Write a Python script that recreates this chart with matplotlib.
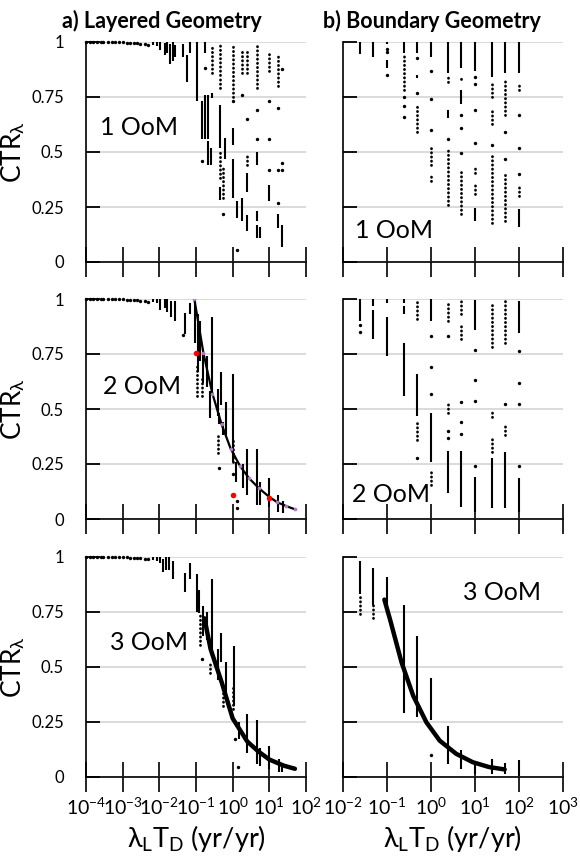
import matplotlib
matplotlib.use('Agg')
import matplotlib.pyplot as plt

plt.rcParams['font.family'] = ['Lato', 'DejaVu Sans']
plt.rcParams['mathtext.fontset'] = 'custom'
plt.rcParams['mathtext.rm'] = 'Lato'
plt.rcParams['mathtext.it'] = 'Lato:italic'
plt.rcParams['mathtext.bf'] = 'Lato:bold'
plt.rcParams['mathtext.fallback'] = 'stixsans'

# ---------------- data ----------------
titles = ['a) Layered Geometry', 'b) Boundary Geometry']
oom_labels = ['1 OoM', '2 OoM', '3 OoM', '1 OoM', '2 OoM', '3 OoM']
y_ticks = [0, 0.25, 0.5, 0.75, 1]
y_ticklabels = ['0', '0.25', '0.5', '0.75', '1']
left_xticks = [1e-4, 1e-3, 1e-2, 1e-1, 1e0, 1e1, 1e2]
left_xticklabels = ['$10^{-4}$', '$10^{-3}$', '$10^{-2}$', '$10^{-1}$',
                    '$10^{0}$', '$10^{1}$', '$10^{2}$']
right_xticks = [1e-2, 1e-1, 1e0, 1e1, 1e2, 1e3]
right_xticklabels = ['$10^{-2}$', '$10^{-1}$', '$10^{0}$', '$10^{1}$',
                     '$10^{2}$', '$10^{3}$']

# near-unity points shared by layered panels
flat_x = [1e-4, 1.3e-4, 1.6e-4, 2e-4, 2.5e-4, 3e-4, 4e-4, 5e-4, 6e-4, 8e-4,
          1e-3, 1.3e-3, 1.6e-3, 2e-3, 2.5e-3, 3e-3, 4e-3, 5e-3]
flat_y = [1, 1, 1, 1, 1, 1, 0.999, 0.999, 0.999, 0.998,
          0.998, 0.997, 0.996, 0.995, 0.994, 0.993, 0.99, 0.988]

# (x, y_low, y_high) dense columns, sparse dotted columns, single points
a1_dense = [(0.0066, 0.985, 1.0), (0.0085, 0.98, 0.998), (0.0105, 0.965, 1.0),
            (0.014, 0.94, 0.995), (0.0165, 0.95, 1.0), (0.02, 0.90, 0.99),
            (0.024, 0.915, 1.0), (0.027, 0.93, 0.985), (0.045, 0.93, 0.99),
            (0.058, 0.82, 0.94), (0.069, 0.95, 1.0), (0.105, 0.73, 1.0),
            (0.142, 0.56, 0.73), (0.176, 0.56, 0.76), (0.176, 0.95, 1.0),
            (0.217, 0.56, 0.76), (0.217, 0.44, 0.55), (0.279, 0.745, 0.77),
            (0.26, 0.44, 0.52), (0.45, 0.52, 0.715), (0.45, 0.28, 0.34),
            (0.62, 0.47, 0.565), (1.04, 0.53, 0.61), (1.04, 0.29, 0.47),
            (1.34, 0.20, 0.275), (1.84, 0.185, 0.29), (2.4, 0.32, 0.405),
            (2.4, 0.14, 0.215), (4.5, 0.44, 0.50), (4.5, 0.185, 0.23),
            (4.5, 0.11, 0.17), (5.6, 0.11, 0.16), (10, 0.275, 0.35),
            (17.6, 0.155, 0.22), (22.6, 0.07, 0.17)]
a1_sparse = [(0.279, 0.86, 0.98), (0.45, 0.85, 1.0), (0.45, 0.79, 0.84),
             (0.45, 0.38, 0.50), (0.56, 0.29, 0.44), (1.04, 0.75, 0.99),
             (1.84, 0.86, 0.96), (2.4, 0.86, 0.96), (2.4, 0.44, 0.49),
             (4.5, 0.79, 0.99), (10, 0.87, 0.95), (17.6, 0.80, 0.94)]
a1_pts_x = [0.56, 1.04, 1.34, 1.84, 2.4, 4.5, 4.5, 10, 10, 10, 17.6, 17.6,
            17.6, 22.6, 22.6, 22.6, 0.176, 0.142]
a1_pts_y = [0.22, 0.73, 0.056, 0.76, 0.65, 0.69, 0.56, 0.73, 0.56, 0.42, 0.70,
            0.42, 0.27, 0.875, 0.45, 0.42, 0.88, 0.46]

a2_dense = [(0.0066, 0.985, 1.0), (0.0085, 0.98, 0.998), (0.0105, 0.95, 1.0),
            (0.014, 0.96, 1.0), (0.0165, 0.94, 1.0), (0.021, 0.92, 0.99),
            (0.026, 0.90, 0.99), (0.05, 0.84, 0.935), (0.069, 0.93, 0.98),
            (0.095, 0.80, 1.0), (0.11, 0.67, 0.93), (0.125, 0.72, 0.90),
            (0.16, 0.62, 0.76), (0.2, 0.60, 0.74), (0.267, 0.58, 0.92),
            (0.24, 0.46, 0.58), (0.41, 0.47, 0.59), (0.43, 0.43, 0.48),
            (0.48, 0.52, 0.67), (0.53, 0.38, 0.44), (0.66, 0.38, 0.53),
            (1.04, 0.26, 0.66), (1.23, 0.17, 0.26), (1.86, 0.14, 0.25),
            (2.4, 0.11, 0.32), (4.5, 0.065, 0.32), (5.6, 0.065, 0.17),
            (10, 0.056, 0.185), (17.6, 0.033, 0.11), (22.9, 0.026, 0.08)]
a2_sparse = [(0.109, 0.56, 0.71), (0.143, 0.56, 0.65), (0.41, 0.30, 0.38),
             (1.0, 0.26, 0.36)]
a2_pts_x = [0.045, 0.425, 1.05, 1.3, 1.3]
a2_pts_y = [0.835, 0.23, 0.205, 0.05, 0.08]
a2_fit_x = [0.09, 0.16, 0.28, 0.5, 0.88, 1.6, 2.8, 5.2, 10, 16.5, 28.5, 50]
a2_fit_y = [1.0, 0.753, 0.57, 0.43, 0.32, 0.24, 0.185, 0.14, 0.10, 0.076,
            0.059, 0.044]
a2_red_x = [0.1, 1.0, 10]
a2_red_y = [0.753, 0.109, 0.097]

a3_dense = [(0.0066, 0.985, 1.0), (0.0085, 0.98, 0.998), (0.0105, 0.97, 1.0),
            (0.0125, 0.93, 0.99), (0.0155, 0.94, 1.0), (0.018, 0.94, 1.0),
            (0.024, 0.90, 0.98), (0.05, 0.84, 0.925), (0.069, 0.90, 0.97),
            (0.105, 0.75, 0.92), (0.12, 0.745, 0.85), (0.16, 0.64, 0.775),
            (0.2, 0.62, 0.75), (0.28, 0.564, 0.90), (0.41, 0.44, 0.58),
            (0.48, 0.52, 0.655), (0.66, 0.38, 0.52), (1.08, 0.32, 0.594),
            (1.45, 0.17, 0.25), (2.4, 0.11, 0.285), (4.5, 0.06, 0.26),
            (5.6, 0.05, 0.13), (10, 0.036, 0.14), (18, 0.02, 0.08),
            (22, 0.02, 0.06)]
a3_sparse = [(0.13, 0.60, 0.745), (0.24, 0.47, 0.52), (0.56, 0.32, 0.41),
             (1.04, 0.31, 0.41)]
a3_pts_x = [0.143, 1.15, 1.4]
a3_pts_y = [0.534, 0.17, 0.044]
a3_fit_x = [0.17, 0.25, 0.5, 1.0, 2.5, 5, 10, 25, 50]
a3_fit_y = [0.72, 0.58, 0.43, 0.265, 0.16, 0.115, 0.078, 0.05, 0.036]

b1_dense = [(0.025, 0.945, 1.0), (0.05, 0.93, 1.0), (0.1, 0.99, 1.0),
            (0.1, 0.88, 0.92), (0.25, 0.95, 1.0), (0.5, 0.95, 1.0),
            (0.5, 0.835, 0.85), (1, 0.93, 1.0), (2.5, 0.86, 1.0),
            (2.5, 0.655, 0.69), (5, 0.88, 1.0), (5, 0.72, 0.78),
            (10, 0.87, 1.0), (10, 0.185, 0.245), (25, 0.84, 1.0),
            (50, 0.86, 1.0), (100, 0.86, 1.0), (100, 0.16, 0.24)]
b1_sparse = [(0.25, 0.78, 0.95), (0.5, 0.59, 0.71), (1, 0.44, 0.525),
             (1, 0.37, 0.40), (2.5, 0.26, 0.52), (2.5, 0.82, 0.84),
             (5, 0.83, 0.85), (5, 0.22, 0.42), (10, 0.31, 0.36),
             (10, 0.405, 0.43), (25, 0.75, 0.81), (25, 0.625, 0.69),
             (25, 0.177, 0.48), (50, 0.67, 0.83), (50, 0.185, 0.40),
             (100, 0.78, 0.82), (100, 0.30, 0.34)]
b1_pts_x = [0.1, 0.1, 0.1, 0.25, 0.25, 0.25, 0.5, 0.5, 1, 1, 1, 2.5, 5, 5, 5,
            10, 10, 10, 10, 25, 50, 50, 100, 100, 100]
b1_pts_y = [0.97, 0.955, 0.85, 0.75, 0.71, 0.66, 0.925, 0.77, 0.87, 0.74, 0.6,
            0.56, 0.67, 0.61, 0.495, 0.84, 0.81, 0.69, 0.54, 0.53, 0.59, 0.47,
            0.67, 0.52, 0.40]

b2_dense = [(0.025, 0.90, 1.0), (0.05, 0.97, 1.0), (0.05, 0.82, 0.95),
            (0.1, 0.98, 1.0), (0.1, 0.74, 0.92), (0.25, 0.98, 1.0),
            (0.25, 0.93, 0.97), (0.25, 0.56, 0.80), (0.5, 0.47, 0.66),
            (1, 0.9, 1.0), (1, 0.26, 0.48), (2.5, 0.12, 0.31),
            (5, 0.056, 0.31), (10, 0.86, 0.995), (10, 0.033, 0.19),
            (25, 0.05, 0.276), (50, 0.05, 0.305), (100, 0.845, 0.99),
            (100, 0.033, 0.185)]
b2_sparse = [(0.5, 0.91, 1.0), (0.5, 0.36, 0.45), (1, 0.155, 0.22),
             (2.5, 0.9, 0.99), (2.5, 0.48, 0.525), (5, 0.93, 0.99),
             (5, 0.82, 0.89), (25, 0.78, 0.98), (25, 0.305, 0.375),
             (25, 0.465, 0.49), (50, 0.80, 0.99), (50, 0.38, 0.43)]
b2_pts_x = [0.025, 0.025, 0.5, 1, 1, 1, 2.5, 2.5, 2.5, 5, 5, 5, 10, 10, 10, 10,
            50, 100, 100, 100, 100]
b2_pts_y = [0.88, 0.85, 0.276, 0.83, 0.69, 0.57, 0.83, 0.40, 0.37, 0.53, 0.44,
            0.385, 0.77, 0.63, 0.535, 0.24, 0.525, 0.765, 0.62, 0.525, 0.24]

b3_dense = [(0.025, 0.83, 0.98), (0.05, 0.78, 0.95), (0.1, 0.74, 0.91),
            (0.25, 0.29, 0.78), (0.5, 0.27, 0.64), (1, 0.26, 0.45),
            (2.5, 0.06, 0.23), (5, 0.036, 0.12), (10, 0.014, 0.066),
            (25, 0.014, 0.08), (50, 0.014, 0.063), (100, 0.003, 0.074)]
b3_sparse = [(0.025, 0.74, 0.83), (0.05, 0.72, 0.78)]
b3_pts_x = [1]
b3_pts_y = [0.097]
b3_fit_x = [0.0885, 0.119, 0.218, 0.4, 0.8, 1.6, 3.8, 9, 21, 48]
b3_fit_y = [0.805, 0.715, 0.519, 0.368, 0.247, 0.164, 0.104, 0.066, 0.044,
            0.033]

# ---------------- figure ----------------
W, H = 580, 866
fig = plt.figure(figsize=(W / 100, H / 100), dpi=100)

col_left = [86 / W, 342.7 / W]
ax_w = 220 / W
row_bottom = [(H - 262) / H, (H - 519) / H, (H - 776.7) / H]
ax_h = 220 / H

oom_pos = [(0.064, 0.61), (0.077, 0.60), (0.109, 0.61),
           (0.056, 0.145), (0.042, 0.11), (0.547, 0.835)]


def draw_cols(ax, dense, sparse, px, py):
    if dense:
        ax.vlines([d[0] for d in dense], [d[1] for d in dense],
                  [d[2] for d in dense], colors='black', linewidths=1.5,
                  clip_on=False, zorder=3)
    if sparse:
        lc = ax.vlines([d[0] for d in sparse], [d[1] for d in sparse],
                       [d[2] for d in sparse], colors='black',
                       linewidths=2.0, linestyles=[(0, (0.1, 1.4))],
                       clip_on=False, zorder=3)
        lc.set_capstyle('round')
    if px:
        ax.scatter(px, py, s=6, c='black', linewidths=0, clip_on=False,
                   zorder=3)


panels = [
    (a1_dense, a1_sparse, a1_pts_x, a1_pts_y),
    (a2_dense, a2_sparse, a2_pts_x, a2_pts_y),
    (a3_dense, a3_sparse, a3_pts_x, a3_pts_y),
    (b1_dense, b1_sparse, b1_pts_x, b1_pts_y),
    (b2_dense, b2_sparse, b2_pts_x, b2_pts_y),
    (b3_dense, b3_sparse, b3_pts_x, b3_pts_y),
]

axes = {}
for c in range(2):
    for r in range(3):
        idx = c * 3 + r
        ax = fig.add_axes([col_left[c], row_bottom[r], ax_w, ax_h])
        axes[(r, c)] = ax
        ax.set_xscale('log')
        if c == 0:
            ax.set_xlim(1e-4, 1e2)
            ax.set_xticks(left_xticks)
            ax.set_xticklabels(left_xticklabels if r == 2 else [])
        else:
            ax.set_xlim(1e-2, 1e3)
            ax.set_xticks(right_xticks)
            ax.set_xticklabels(right_xticklabels if r == 2 else [])
        ax.xaxis.set_minor_locator(matplotlib.ticker.NullLocator())
        ax.set_ylim(0, 1)
        ax.set_yticks(y_ticks)
        ax.set_yticklabels(y_ticklabels if c == 0 else [])
        ax.tick_params(axis='y', direction='in', length=10, width=1.3,
                       pad=16, labelsize=12, colors='black')
        ax.tick_params(axis='x', direction='inout', length=22, width=1.2,
                       pad=3, labelsize=14)
        for s in ['top', 'right']:
            ax.spines[s].set_visible(False)
        for s in ['left', 'bottom']:
            ax.spines[s].set_linewidth(1.2)
        ax.grid(axis='y', color='#d4d4d4', linewidth=1.2, zorder=0)
        ax.set_axisbelow(True)
        ax.patch.set_alpha(0)

        d, sp, px, py = panels[idx]
        if c == 0:
            ax.scatter(flat_x, flat_y, s=6, c='black', linewidths=0,
                       clip_on=False, zorder=3)
        draw_cols(ax, d, sp, px, py)

        ax.text(oom_pos[idx][0], oom_pos[idx][1], oom_labels[idx],
                transform=ax.transAxes, fontsize=18, va='center',
                ha='left')
        if c == 0:
            ax.set_ylabel('CTR$_{\\mathrm{\\lambda}}$', fontsize=19)
            ax.yaxis.set_label_coords(-0.27, 0.5)
        if r == 2:
            ax.set_xlabel('$\\mathrm{\\lambda_L T_D}$ (yr/yr)', fontsize=19.5,
                          labelpad=4)

# fitted curves
ax = axes[(1, 0)]
ax.plot(a2_fit_x, a2_fit_y, color='black', lw=1.6, zorder=4)
ax.scatter(a2_fit_x, a2_fit_y, s=7, c='#b07cc0', linewidths=0, zorder=5)
ax.scatter(a2_red_x, a2_red_y, s=16, c='red', linewidths=0, zorder=6)

ax = axes[(2, 0)]
ax.plot(a3_fit_x, a3_fit_y, color='black', lw=3.2, zorder=4,
        solid_capstyle='round')

ax = axes[(2, 1)]
ax.plot(b3_fit_x, b3_fit_y, color='black', lw=3.2, zorder=4,
        solid_capstyle='round')

fig.text(62 / W, 1 - 27.5 / H, titles[0], fontsize=15.5, fontweight='bold',
         va='baseline', ha='left')
fig.text(323 / W, 1 - 27.5 / H, titles[1], fontsize=15.5, fontweight='bold',
         va='baseline', ha='left')

fig.savefig('out.png', dpi=100)
